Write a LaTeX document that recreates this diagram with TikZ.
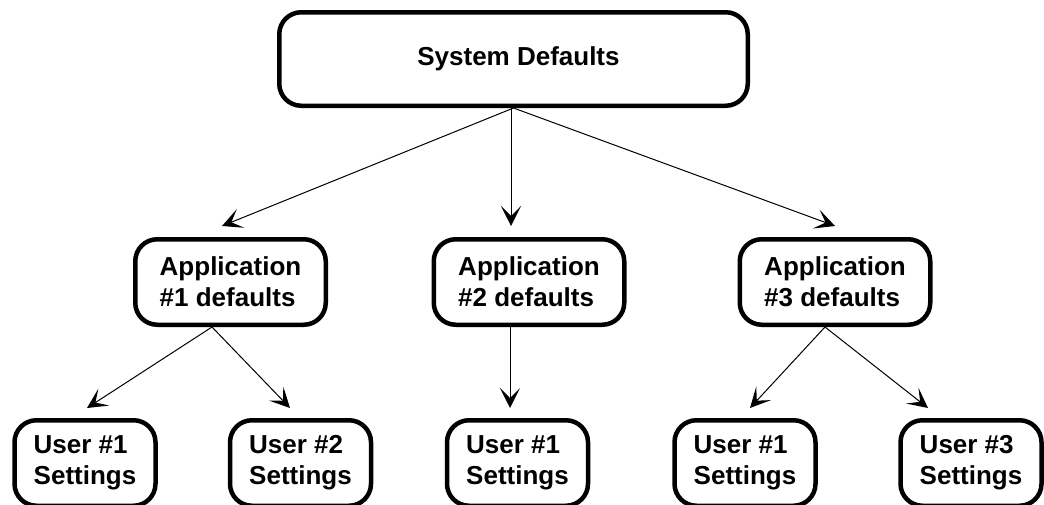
\documentclass[tikz,border=0pt]{standalone}
\usepackage{fontspec}
\setmainfont{Liberation Sans}
\usetikzlibrary{arrows.meta}
\begin{document}
\begin{tikzpicture}[x=1pt,y=-1pt,
  box/.style={draw=black, line width=4.5pt, rounded corners=22pt, inner sep=0pt,
    align=left, fill=white, font=\bfseries\fontsize{26}{31}\selectfont},
  sysbox/.style={box, minimum width=468.5pt, minimum height=93.5pt},
  appbox/.style={box, minimum width=190.5pt, minimum height=85.5pt},
  userbox/.style={box, minimum width=141pt, minimum height=85.5pt},
  arr/.style={line width=1pt, -{Stealth[length=20pt,width=20pt,inset=10pt,line width=1.2pt]}}]
\useasboundingbox (0,0) rectangle (1044,504);

% levels of the settings hierarchy
\node[sysbox] (sys) at (513.5,59) {\hspace*{10pt}System Defaults};

\node[appbox] (app1) at (230.5,282) {Application\\\#1 defaults};
\node[appbox] (app2) at (529,282) {Application\\\#2 defaults};
\node[appbox] (app3) at (835,282) {Application\\\#3 defaults};

\node[userbox] (u1a) at (85,463) {User \#1\\Settings};
\node[userbox] (u2a) at (300.5,463) {User \#2\\Settings};
\node[userbox] (u1b) at (517.5,463) {User \#1\\Settings};
\node[userbox] (u1c) at (745,463) {User \#1\\Settings};
\node[userbox] (u3c) at (971,463) {User \#3\\Settings};

% system defaults feed each application
\draw[arr] (sys.south) -- ([xshift=-8.5pt,yshift=11pt]app1.north);
\draw[arr] ([xshift=-2.5pt]sys.south) -- ([xshift=-18pt,yshift=11pt]app2.north);
\draw[arr] (sys.south) -- ([yshift=11pt]app3.north);

% applications feed user settings
\draw[arr] ([xshift=-18.5pt]app1.south) -- ([xshift=2pt,yshift=10pt]u1a.north);
\draw[arr] ([xshift=-18.5pt]app1.south) -- ([xshift=-10.5pt,yshift=10pt]u2a.north);
\draw[arr] ([xshift=-19pt]app2.south) -- ([xshift=-7.5pt,yshift=10pt]u1b.north);
\draw[arr] ([xshift=-10pt]app3.south) -- ([xshift=5pt,yshift=10pt]u1c.north);
\draw[arr] ([xshift=-10pt]app3.south) -- ([xshift=-43pt,yshift=10pt]u3c.north);
\end{tikzpicture}
\end{document}
